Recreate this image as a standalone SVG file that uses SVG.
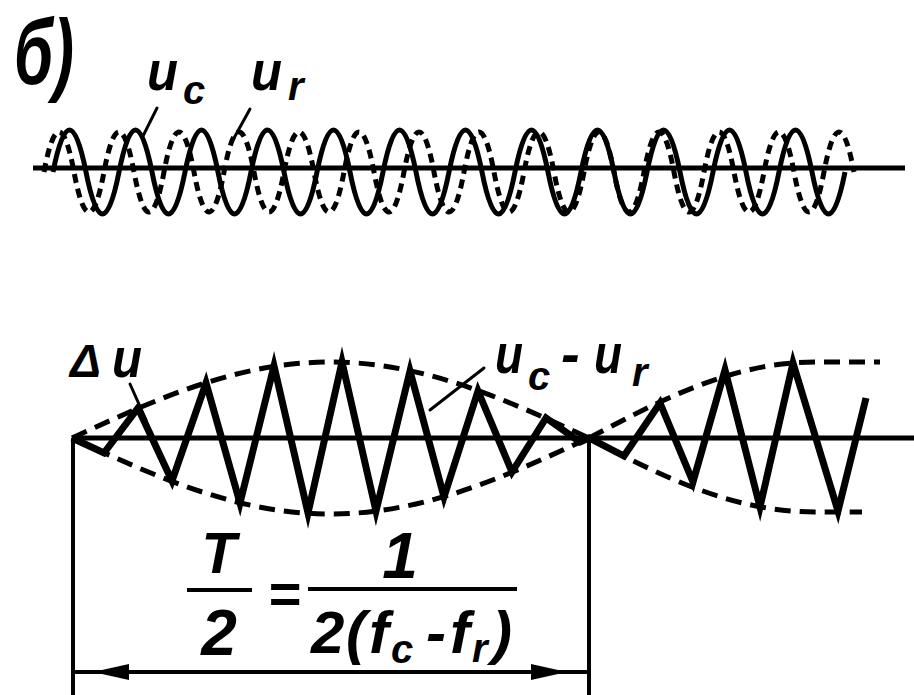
<svg xmlns="http://www.w3.org/2000/svg" width="914" height="695" viewBox="0 0 914 695">
<defs>
<style>
.t{font-family:"Liberation Sans","DejaVu Sans",Arial,sans-serif;font-style:italic;font-weight:bold;fill:#000}
.axis{stroke:#000;stroke-width:5;fill:none}
.thin{stroke:#000;stroke-width:3;fill:none;stroke-linecap:round}
.wave{stroke:#000;stroke-width:5;fill:none;stroke-linejoin:round}
.dwave{stroke:#000;stroke-width:5;fill:none;stroke-dasharray:9 6}
.zig{stroke:#000;stroke-width:7;fill:none;stroke-linejoin:miter;stroke-miterlimit:6}
.env{stroke:#000;stroke-width:5;fill:none;stroke-dasharray:16 9}
.dim{stroke:#000;stroke-width:4;fill:none}
</style>
<marker id="arr" markerUnits="userSpaceOnUse" markerWidth="40" markerHeight="20" viewBox="-38 -10 40 20" refX="0" refY="0" orient="auto-start-reverse">
<path d="M0,0 L-36,-8 L-36,8 Z" fill="#000"/>
</marker>
</defs>
<rect width="914" height="695" fill="#fff"/>

<g id="label-b"><text class="t" x="14" y="84" font-size="92" textLength="60" lengthAdjust="spacingAndGlyphs">б)</text></g>

<g id="top-plot">
<line class="axis" x1="33" y1="168" x2="905" y2="168"/>
<path id="uc-wave" class="wave" d="M53,172 q16.5,-84 33,0 t33,0 t33,0 t33,0 t33,0 t33,0 t33,0 t33,0 t33,0 t33,0 t33,0 t33,0 t33,0 t33,0 t33,0 t33,0 t33,0 t33,0 t33,0 t33,0 t33,0 t33,0 t33,0 t33,0"/>
<path id="ur-wave" class="dwave" d="M44,172 q15,-80 30,0 t30,0 t30,0 t30,0 t30,0 t30,0 t30,0 t30,0 t30,0 t30,0 t30,0 t30,0 t30,0 t30,0 t30,0 t30,0 t30,0 t30,0 t30,0 t30,0 t30,0 t30,0 t30,0 t30,0 t30,0 t30,0 t30,0"/>
</g>

<g id="label-uc">
<text class="t" x="147" y="90" font-size="56" textLength="31" lengthAdjust="spacingAndGlyphs">u</text>
<text class="t" x="183" y="104" font-size="40">c</text>
<line class="thin" x1="157" y1="108" x2="142" y2="138"/>
</g>
<g id="label-ur">
<text class="t" x="251" y="90" font-size="56" textLength="31" lengthAdjust="spacingAndGlyphs">u</text>
<text class="t" x="288" y="100" font-size="40">r</text>
<line class="thin" x1="250" y1="109" x2="234" y2="138"/>
</g>

<g id="bottom-plot">
<line class="axis" x1="72" y1="438" x2="914" y2="438"/>
<path id="env-left-top" class="env" d="M72,438 C156.4,399 237.4,362 330.5,362 S504.6,399 589,438"/>
<path id="env-left-bottom" class="env" d="M72,438 C156.4,477 237.4,514 330.5,514 S504.6,477 589,438"/>
<path id="env-right-top" class="env" d="M589,438 C662.7,399 733.6,362 815,362 L880,362"/>
<path id="env-right-bottom" class="env" d="M589,438 C662.7,477 733.6,512 815,512 L862,512"/>
<polyline id="beat-wave" class="zig" points="72,438 104,453 138,408 172,481 206,383 240,503 274,366 308,513 342,362 376,511 410,371 444,497 478,391 512,472 546,418 580,442 589,438 624,456 660,403 693,482 725,370 760,507 793,363 838,511 866,398"/>
</g>

<g id="label-du">
<text class="t" x="70" y="377" font-size="46">Δ</text>
<text class="t" x="112" y="377" font-size="56" textLength="30" lengthAdjust="spacingAndGlyphs">u</text>
<line class="thin" x1="130" y1="384" x2="146" y2="420"/>
</g>
<g id="label-diff">
<text class="t" x="495" y="373" font-size="56" textLength="28" lengthAdjust="spacingAndGlyphs">u</text>
<text class="t" x="528" y="390" font-size="40">c</text>
<text class="t" x="561" y="373" font-size="56">-</text>
<text class="t" x="594" y="373" font-size="56" textLength="28" lengthAdjust="spacingAndGlyphs">u</text>
<text class="t" x="632" y="386" font-size="40">r</text>
<line class="thin" x1="484" y1="368" x2="430" y2="410"/>
</g>

<g id="dimension">
<line class="dim" x1="73" y1="438" x2="73" y2="695"/>
<line class="dim" x1="589" y1="438" x2="589" y2="695"/>
<line class="dim" x1="73" y1="672" x2="589" y2="672"/>
<line class="dim" x1="93" y1="672" x2="567" y2="672" marker-start="url(#arr)" marker-end="url(#arr)"/>
</g>

<g id="formula">
<text class="t" x="219" y="573" font-size="57" text-anchor="middle">T</text>
<line class="dim" x1="187" y1="590" x2="252" y2="590"/>
<text class="t" x="219" y="655" font-size="64" text-anchor="middle">2</text>
<text class="t" x="284" y="613" font-size="56" text-anchor="middle">=</text>
<text class="t" x="400" y="578" font-size="64" text-anchor="middle">1</text>
<line class="dim" x1="308" y1="589" x2="517" y2="589"/>
<text class="t" y="653" font-size="60"><tspan x="311">2</tspan><tspan x="346">(</tspan><tspan x="369">f</tspan><tspan x="391" y="663" font-size="40">c</tspan><tspan x="426" y="653">-</tspan><tspan x="450">f</tspan><tspan x="472" y="662" font-size="40">r</tspan><tspan x="492" y="653">)</tspan></text>
</g>
</svg>
